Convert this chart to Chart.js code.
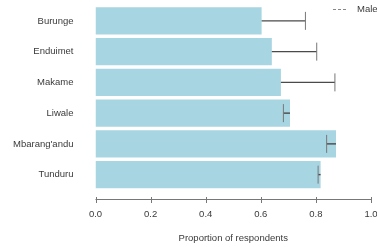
<!DOCTYPE html>
<html>
<head>
<meta charset="utf-8">
<script src="https://cdn.jsdelivr.net/npm/chart.js@4"></script>
<style>
  html, body { margin: 0; padding: 0; background: #fff; }
</style>
</head>
<body>
<canvas id="barChart" width="377" height="247"></canvas>
<script>
// values
const sites = ['Burunge', 'Enduimet', 'Makame', 'Liwale', "Mbarang'andu", 'Tunduru'];
const proportion = [0.603, 0.640, 0.673, 0.706, 0.873, 0.817];
const male = [0.762, 0.803, 0.869, 0.682, 0.839, 0.808];
const xTicks = [0, 0.2, 0.4, 0.6, 0.8, 1.0];

const textColor = '#3a3a3a';
const fontFamily = '"Liberation Sans", Arial, sans-serif';
const fontSize = 9.5;

// whiskers from bar end to the male value
const errorBars = {
  id: 'errorBars',
  afterDatasetsDraw(chart) {
    const xs = chart.scales.x, ys = chart.scales.y, ctx = chart.ctx;
    ctx.save();
    for (let i = 0; i < sites.length; i++) {
      const y = ys.getPixelForValue(i);
      const x0 = xs.getPixelForValue(proportion[i]);
      const x1 = xs.getPixelForValue(male[i]);
      ctx.strokeStyle = '#4a4a4a';
      ctx.lineWidth = 1.4;
      ctx.beginPath();
      ctx.moveTo(x0, y);
      ctx.lineTo(x1, y);
      ctx.stroke();
      ctx.strokeStyle = '#777';
      ctx.lineWidth = 1;
      ctx.beginPath();
      ctx.moveTo(x1, y - 9);
      ctx.lineTo(x1, y + 9);
      ctx.stroke();
    }
    ctx.restore();
  }
};

// R style axis line, detached from the plot, plus legend
const extras = {
  id: 'extras',
  afterDraw(chart) {
    const xs = chart.scales.x, ctx = chart.ctx;
    const yLine = chart.chartArea.bottom + 9;
    ctx.save();
    ctx.strokeStyle = '#777';
    ctx.lineWidth = 1;
    ctx.beginPath();
    ctx.moveTo(xs.getPixelForValue(xTicks[0]), yLine + 0.5);
    ctx.lineTo(xs.getPixelForValue(xTicks[xTicks.length - 1]), yLine + 0.5);
    xTicks.forEach(v => {
      const x = Math.round(xs.getPixelForValue(v)) + 0.5;
      ctx.moveTo(x, yLine - 2);
      ctx.lineTo(x, yLine + 4);
    });
    ctx.stroke();

    // legend
    ctx.strokeStyle = '#888';
    ctx.setLineDash([3, 2]);
    ctx.beginPath();
    ctx.moveTo(333, 9.5);
    ctx.lineTo(348, 9.5);
    ctx.stroke();
    ctx.setLineDash([]);
    ctx.fillStyle = textColor;
    ctx.font = fontSize + 'px ' + fontFamily;
    ctx.textAlign = 'left';
    ctx.textBaseline = 'middle';
    ctx.fillText('Male', 357, 9.5);
    ctx.restore();
  }
};

const data = {
  labels: sites,
  datasets: [{
    label: 'Proportion',
    data: proportion,
    backgroundColor: '#A8D5E2',
    borderWidth: 0,
    categoryPercentage: 1,
    barPercentage: 0.88
  }]
};

const config = {
  type: 'bar',
  data: data,
  options: {
    indexAxis: 'y',
    responsive: false,
    animation: false,
    devicePixelRatio: 1,
    layout: { padding: { top: 5.5, right: 6, left: 0, bottom: 0 } },
    plugins: { legend: { display: false }, tooltip: { enabled: false } },
    scales: {
      x: {
        min: 0,
        max: 1,
        grid: { display: false, drawTicks: false },
        border: { display: false },
        ticks: {
          stepSize: 0.2,
          padding: 19,
          color: textColor,
          font: { size: fontSize, family: fontFamily },
          callback: v => Number(v).toFixed(1)
        },
        title: {
          display: true,
          text: 'Proportion of respondents',
          color: textColor,
          font: { size: fontSize, family: fontFamily },
          padding: { top: 10, bottom: 3 }
        },
        afterFit: s => { s.height = 57; s.paddingLeft = 0; s.paddingRight = 0; }
      },
      y: {
        grid: { display: false, drawTicks: false },
        border: { display: false },
        ticks: {
          padding: 22,
          color: textColor,
          font: { size: fontSize, family: fontFamily }
        },
        afterFit: s => { s.width = 95.5; s.paddingTop = 0; s.paddingBottom = 0; }
      }
    }
  },
  plugins: [errorBars, extras]
};

var barChart = new Chart(document.getElementById('barChart'), config);
</script>
</body>
</html>
